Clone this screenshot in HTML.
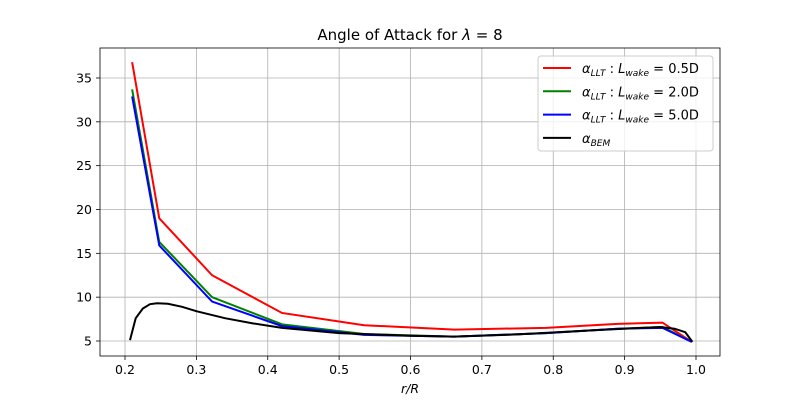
<!DOCTYPE html><html><head><meta charset="utf-8"><style>body{margin:0;background:#fff}svg{font-family:"DejaVu Sans","Liberation Sans",sans-serif}</style></head><body>
<svg id="c" width="800" height="400"></svg>
<script>
const llt_r=[0.21,0.248,0.322,0.42,0.535,0.662,0.79,0.89,0.953,0.994];
const red=[36.8,19.0,12.5,8.2,6.8,6.3,6.5,6.95,7.1,4.9];
const green=[33.7,16.3,10.0,6.9,5.8,5.5,5.9,6.4,6.6,4.9];
const blue=[32.9,15.9,9.5,6.7,5.7,5.5,5.9,6.4,6.5,4.9];
const bem_r=[0.207,0.215,0.225,0.235,0.245,0.26,0.28,0.30,0.32,0.34,0.38,0.42,0.5,0.6,0.66,0.75,0.85,0.95,0.97,0.985,0.995];
const bem=[5.1,7.6,8.7,9.2,9.3,9.25,8.9,8.4,8.0,7.6,7.0,6.5,5.9,5.6,5.5,5.75,6.2,6.6,6.4,6.0,4.9];
const xt=[0.2,0.3,0.4,0.5,0.6,0.7,0.8,0.9,1.0], yt=[5,10,15,20,25,30,35];
const X=v=>125+(v-0.2)*713.75, Y=v=>341-(v-5)*8.767;
const s=document.getElementById('c');const N='http://www.w3.org/2000/svg';
function el(t,a,txt){const e=document.createElementNS(N,t);for(const k in a)e.setAttribute(k,a[k]);if(txt!==undefined)e.textContent=txt;s.appendChild(e);return e;}
xt.forEach(v=>{const g=el('line',{x1:X(v),x2:X(v),y1:48,y2:356,stroke:'#b0b0b0','stroke-width':0.8});
el('line',{x1:X(v),x2:X(v),y1:356,y2:360,stroke:'#000','stroke-width':0.8});
const t=el('text',{x:X(v),y:374,'text-anchor':'middle','font-size':12.5},v.toFixed(1));});
yt.forEach(v=>{const g=el('line',{x1:100,x2:720,y1:Y(v),y2:Y(v),stroke:'#b0b0b0','stroke-width':0.8});
el('line',{x1:96,x2:100,y1:Y(v),y2:Y(v),stroke:'#000','stroke-width':0.8});
const t=el('text',{x:92,y:Y(v)+4.5,'text-anchor':'end','font-size':12.5},v);});
function line(rs,vs,c,n){const p=el('polyline',{points:rs.map((r,i)=>X(r)+','+Y(vs[i])).join(' '),fill:'none',stroke:c,'stroke-width':2});}
line(llt_r,red,'#ff0000','series-llt-0.5d');line(llt_r,green,'#008000','series-llt-2.0d');line(llt_r,blue,'#0000ff','series-llt-5.0d');line(bem_r,bem,'#000','series-bem');
const f=el('rect',{x:100,y:48,width:620,height:308,fill:'none',stroke:'#000','stroke-width':0.8});
const ti=el('text',{x:410,y:40,'text-anchor':'middle','font-size':15},'');
ti.innerHTML='Angle of Attack for <tspan font-style="italic">λ</tspan> = 8';
const xl=el('text',{x:410,y:393,'text-anchor':'middle','font-size':12.5,'font-style':'italic'},'r/R');
const lg=el('rect',{x:538,y:56,width:175,height:95,fill:'#fff','fill-opacity':0.8,stroke:'#ccc',rx:3});
const L=[['#ff0000','0.5D'],['#008000','2.0D'],['#0000ff','5.0D'],['#000',null]];
L.forEach((d,i)=>{const y=68+i*23.3;el('line',{x1:543,x2:571,y1:y,y2:y,stroke:d[0],'stroke-width':2});
const t=el('text',{x:582,y:y+5,'font-size':13},'');
t.innerHTML=d[1]?'<tspan font-style="italic">α</tspan><tspan font-size="9" dy="3" font-style="italic">LLT</tspan><tspan dy="-3"> : </tspan><tspan font-style="italic">L</tspan><tspan font-size="9" dy="3" font-style="italic">wake</tspan><tspan dy="-3"> =  '+d[1]+'</tspan>':'<tspan font-style="italic">α</tspan><tspan font-size="9" dy="3" font-style="italic">BEM</tspan>';});
</script></body></html>
